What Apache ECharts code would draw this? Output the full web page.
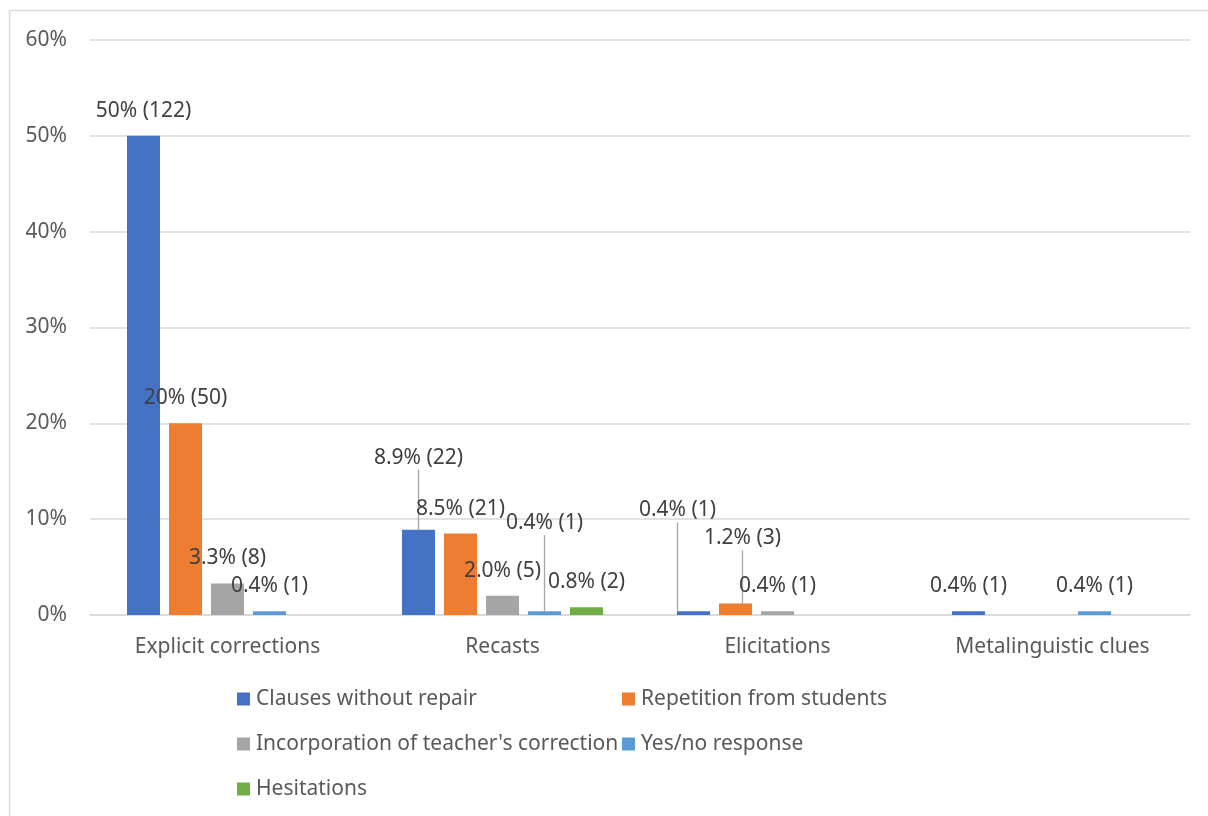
<!DOCTYPE html>
<html>
<head>
<meta charset="utf-8">
<script src="https://cdn.jsdelivr.net/npm/echarts@6/dist/echarts.min.js"></script>
<style>
  html, body { margin: 0; padding: 0; background: #fff; }
  #chart { width: 1208px; height: 816px; }
</style>
</head>
<body>
<div id="chart"></div>
<script>
const categories = ['Explicit corrections', 'Recasts', 'Elicitations', 'Metalinguistic clues'];
const seriesNames = ['Clauses without repair', 'Repetition from students', "Incorporation of teacher's correction", 'Yes/no response', 'Hesitations'];
const clauses = [50, 8.9, 0.4, 0.4];
const clausesN = [122, 22, 1, 1];
const repetition = [20, 8.5, 1.2, null];
const repetitionN = [50, 21, 3, null];
const incorporation = [3.3, 2.0, 0.4, null];
const incorporationN = [8, 5, 1, null];
const yesno = [0.4, 0.4, null, 0.4];
const yesnoN = [1, 1, null, 1];
const hesitations = [null, 0.8, null, null];
const hesitationsN = [null, 2, null, null];
const yTicks = [0, 10, 20, 30, 40, 50, 60];

const values = [clauses, repetition, incorporation, yesno, hesitations];
const counts = [clausesN, repetitionN, incorporationN, yesnoN, hesitationsN];
const colors = ['#4472C4', '#ED7D31', '#A5A5A5', '#5B9BD5', '#70AD47'];

// manually moved labels (seriesIndex-dataIndex) -> offsets, as in the reference
const moved = {
  '0-1': { dx: 0, dy: -47 },
  '3-1': { dx: 0, dy: -63 },
  '0-2': { dx: -16, dy: -76 },
  '1-2': { dx: 7, dy: -40 }
};

const FONT = 'Noto Sans';
const FS = 21;

const series = values.map((vals, si) => ({
  name: seriesNames[si],
  type: 'bar',
  barWidth: 33,
  barGap: '27.27%',
  itemStyle: { color: colors[si] },
  data: vals.map((v, di) => {
    const item = { value: v };
    if (moved[si + '-' + di]) {
      item.labelLine = { show: true };
    }
    return item;
  }),
  label: {
    show: true,
    position: 'top',
    distance: 13,
    fontFamily: FONT,
    fontSize: FS,
    lineHeight: 24,
    color: '#404040',
    formatter: (p) => {
      const v = p.value;
      if (v === null || v === undefined) return '';
      const pct = v >= 10 ? v.toFixed(0) : v.toFixed(1);
      return pct + '% (' + counts[si][p.dataIndex] + ')';
    }
  },
  labelLine: {
    show: false,
    lineStyle: { color: '#A6A6A6', width: 1.3 }
  },
  labelLayout: (params) => {
    const m = moved[params.seriesIndex + '-' + params.dataIndex];
    return m ? { dx: m.dx, dy: m.dy } : {};
  }
}));

const legendText = { fontFamily: FONT, fontSize: FS, lineHeight: 24, color: '#595959', padding: [0, 0, 0, 1] };

const chart = echarts.init(document.getElementById('chart'), null, { renderer: 'canvas' });
chart.setOption({
  backgroundColor: '#ffffff',
  animation: false,
  graphic: [{
    type: 'rect',
    shape: { x: 9.5, y: 10.5, width: 1220, height: 830 },
    style: { fill: 'none', stroke: '#D9D9D9', lineWidth: 1.5 },
    silent: true,
    z: -10
  }],
  grid: { left: 90, right: 18, top: 40, bottom: 201, containLabel: false },
  legend: [{
    data: [seriesNames[0], seriesNames[2], seriesNames[4]],
    orient: 'vertical',
    left: 232,
    top: 682,
    itemWidth: 13,
    itemHeight: 13,
    itemGap: 21,
    icon: 'rect',
    textStyle: legendText
  }, {
    data: [seriesNames[1], seriesNames[3]],
    orient: 'vertical',
    left: 617,
    top: 682,
    itemWidth: 13,
    itemHeight: 13,
    itemGap: 21,
    icon: 'rect',
    textStyle: legendText
  }],
  xAxis: {
    type: 'category',
    data: categories,
    axisLine: { lineStyle: { color: '#D9D9D9', width: 1.5 } },
    axisTick: { show: false },
    axisLabel: { fontFamily: FONT, fontSize: FS, color: '#595959', margin: 22 }
  },
  yAxis: {
    type: 'value',
    min: yTicks[0],
    max: yTicks[yTicks.length - 1],
    interval: 10,
    axisLine: { show: false },
    axisTick: { show: false },
    splitLine: { lineStyle: { color: '#D9D9D9', width: 1.5 } },
    axisLabel: { fontFamily: FONT, fontSize: FS, color: '#595959', margin: 23, formatter: '{value}%' }
  },
  series: series
});
</script>
</body>
</html>
